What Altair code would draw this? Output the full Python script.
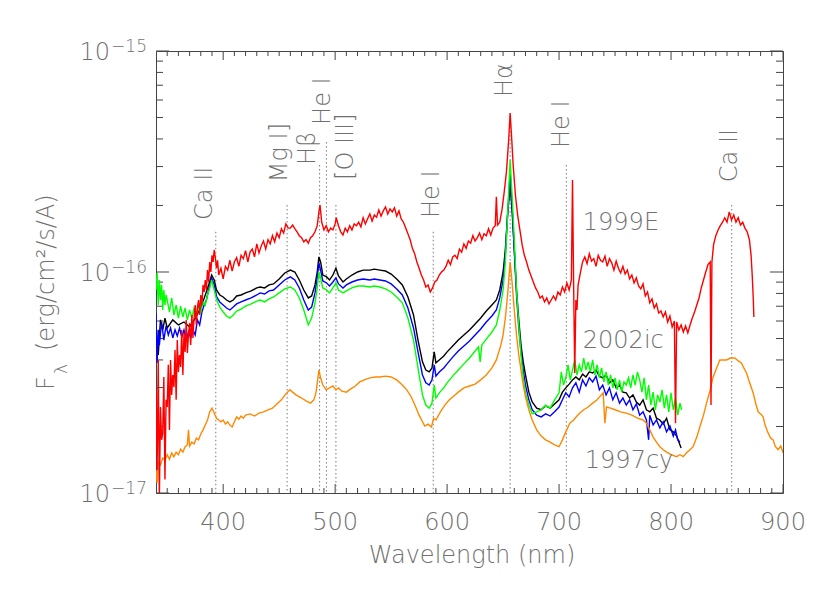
import altair as alt
import pandas as pd

# ---------------- data (flux in units of 1e-17 erg/cm2/s/A) ----------------
# SN 1999E (red), written in wavelength segments
red_wl = (list(range(340, 396))
          + list(range(396, 460, 2))
          + list(range(460, 485, 2))
          + [485.5, 486.5, 488, 490, 492, 494, 496, 498, 500, 501, 503, 505, 507, 509, 511, 513, 515, 517]
          + list(range(519, 560, 2))
          + list(range(561, 598, 2))
          + list(range(599, 644, 2))
          + [644, 645, 647, 649, 651, 653, 655, 656.3, 657.5, 659, 661, 663, 665, 667, 669, 671, 673, 675, 677, 679,
             681, 683, 685, 687, 689, 691, 693, 695, 697, 699, 701, 703, 705, 707, 709, 711, 712, 713, 714, 715,
             716, 717]
          + list(range(719, 804, 2))
          + [804] + list(range(805, 836, 2))
          + [835.7, 836.5, 838, 840, 842, 844, 846, 848, 850, 852, 854, 856, 858, 860, 862, 864, 866, 868, 870,
             871.5, 872.5, 873.5, 874])
red_flux = ([2.93, 1.27, 4.00, 0.93, 2.45, 1.74, 1.87, 3.35, 1.15, 2.64, 2.45, 3.80, 1.93, 4.00, 2.78, 3.42, 3.02, 4.44,
             2.64, 4.92, 3.53, 4.21, 3.72, 5.47, 3.42, 5.30, 4.35, 6.07, 4.30, 5.19, 5.88, 4.67, 6.39, 5.03, 6.19, 7.09,
             5.76, 6.94, 7.47, 6.39, 7.87, 7.09, 8.74, 8.12, 9.20, 8.29, 10.2, 9.01, 11.1, 10.0, 11.9, 11.1, 12.6, 11.6,
             10.4, 11.3]
            + [9.69, 10.4, 9.30, 10.6, 10.2, 11.3, 10.1, 11.1, 11.6, 10.6, 11.9, 11.5, 12.5, 11.1, 12.3, 12.7, 11.7,
               13.4, 12.2, 13.1, 13.8, 12.7, 14.0, 13.4, 14.6, 13.7, 15.0, 14.3, 15.7, 15.0, 16.5, 15.8]
            + [15.8, 16.3, 15.7, 15.2, 14.6, 14.3, 13.7, 14.0, 13.5, 14.3, 14.6, 15.2, 16.2]
            + [18.7, 20.1, 16.8, 15.5, 16.2, 15.2, 15.8, 15.5, 16.5, 17.6, 16.2, 15.2, 14.7, 15.8, 15.2, 16.2, 15.5, 16.5]
            + [16.2, 16.8, 16.0, 17.6, 16.5, 17.4, 18.3, 17.0, 18.1, 17.7, 19.1, 17.9, 18.9, 19.7, 18.3, 19.3, 18.7,
               19.5, 17.9, 18.9, 17.4]
            + [16.8, 15.8, 14.9, 14.0, 12.8, 12.1, 11.1, 10.4, 9.69, 9.20, 8.55, 8.74, 8.12, 8.47, 9.01, 9.20, 9.69,
               10.0, 10.2]
            + [10.6, 11.3, 10.8, 11.7, 11.9, 11.5, 12.7, 12.3, 13.4, 12.8, 13.8, 13.5, 14.6, 13.8, 14.3, 15.0, 14.0,
               14.9, 14.6, 15.7, 14.7, 15.8, 16.2]
            + [21.9, 16.3, 16.8, 19.1, 23.0, 28.4, 39.6, 52.4, 41.7, 30.5, 22.3, 18.1, 15.5, 13.3, 11.9, 11.1, 10.2,
               9.60, 9.01, 8.47, 8.12, 7.63, 7.79, 7.32, 7.63, 7.17, 7.47, 7.79, 7.47, 8.12, 7.87, 8.55, 8.12, 8.92,
               8.29, 9.20, 26.1, 8.74, 3.49, 7.47, 6.73, 8.74]
            + [9.90, 11.1, 11.7, 10.9, 12.1, 11.2, 11.5, 10.6, 11.9, 11.3, 11.1, 11.8, 10.6, 11.5, 11.0, 10.2, 11.2,
               10.4, 9.90, 10.6, 9.79, 10.2, 9.30, 9.69, 8.92, 9.40, 8.64, 8.38, 8.83, 7.79, 8.12, 7.25, 7.55, 6.87,
               7.17, 6.52, 6.66, 6.26, 6.59, 5.94, 6.32, 5.64, 6.00]
            + [2.07, 5.94, 5.47, 5.76, 5.35, 5.70, 5.30, 5.76, 6.19, 6.59, 7.09, 7.63, 8.47, 9.20, 10.0, 10.8, 11.1]
            + [2.50, 11.1, 13.3, 14.6, 15.5, 16.2, 16.8, 17.6, 16.8, 18.7, 17.2, 18.1, 16.8, 17.6, 16.3, 16.8, 15.8,
               15.2, 14.0, 11.9, 9.69, 7.47, 6.26])

black_wl = [340, 342, 344, 346, 348, 350, 355, 360, 365, 370, 375, 380, 384, 387, 389.7, 392, 394, 397, 400, 403,
            406, 409, 412, 416, 420, 425, 430, 433, 437, 441, 445, 450, 455, 460, 464, 468, 472, 476, 479, 482,
            484, 485.5, 487, 489, 492.4, 495, 498, 500.7, 503, 507, 510, 515, 520, 525, 531, 535, 540, 545, 550, 555,
            560, 565, 570, 574, 578, 581, 584, 586.5, 588.5, 590, 593, 597, 600, 605, 610, 615, 620, 625, 630, 635,
            640, 644, 647, 650, 652, 654, 656.3, 658, 660, 662, 664, 666, 668, 670, 673, 676, 680, 684, 688, 692,
            696, 700, 703, 706, 709, 712, 715, 718, 721, 724, 727, 730, 733, 736, 739, 742, 745, 748, 751, 754,
            757, 760, 763, 766, 769, 772, 775, 778, 781, 784, 787, 790, 793, 796, 799, 802, 805, 807, 809]
black_flux = [5.19, 4.21, 6.07, 5.47, 6.19, 5.58, 6.07, 5.76, 5.94, 5.64, 6.19, 6.87, 7.87, 8.74, 9.69, 9.20, 8.29, 7.87, 7.71, 7.47,
              7.32, 7.47, 7.79, 7.87, 8.04, 8.21, 8.47, 8.55, 8.47, 8.74, 8.83, 9.30, 9.90, 10.2, 10.0, 9.20, 8.29, 7.63, 7.79, 8.74,
              10.0, 11.7, 11.1, 9.69, 9.50, 9.20, 9.69, 10.4, 9.60, 9.01, 9.30, 9.69, 10.0, 10.2, 10.2, 10.3, 10.2, 10.1, 9.79, 9.30,
              8.74, 7.71, 6.39, 4.92, 3.92, 3.60, 3.53, 3.68, 4.35, 3.88, 4.00, 4.17, 4.35, 4.63, 4.92, 5.19, 5.47, 5.82, 6.19, 6.66,
              7.09, 7.47, 8.29, 10.0, 12.6, 18.1, 24.8, 19.1, 12.6, 8.29, 6.07, 4.67, 3.92, 3.42, 2.86, 2.58, 2.42, 2.38, 2.48, 2.42,
              2.53, 2.64, 2.86, 2.99, 3.11, 3.25, 3.35, 3.25, 3.45, 3.35, 3.53, 3.49, 3.60, 3.38, 3.32, 3.42, 3.15, 3.25, 2.99, 3.08,
              2.86, 2.84, 2.69, 2.78, 2.58, 2.50, 2.64, 2.38, 2.33, 2.42, 2.18, 2.14, 2.05, 2.18, 1.93, 1.89, 1.81, 1.70, 1.60]

blue_wl = [340, 341, 342, 343, 345, 347, 349, 351, 353, 355, 357, 359, 361, 363, 365, 367, 369, 371, 373, 375,
           377, 379, 381, 383, 385, 387, 389.7, 392, 394.2, 397, 400, 403, 406, 409, 412, 416, 420, 425, 430, 433,
           437, 441, 445, 450, 455, 460, 464, 468, 472, 476, 479, 482, 484, 485.5, 487, 489, 492.4, 495, 498, 500.7,
           503, 507, 510, 515, 520, 525, 531, 535, 540, 545, 550, 555, 560, 565, 570, 574, 578, 581, 584, 586.5,
           588.5, 590, 593, 597, 600, 605, 610, 615, 620, 625, 630, 635, 640, 644, 647, 650, 652, 654, 656.3, 658,
           660, 662, 664, 666, 668, 670, 673, 676, 680, 684, 688, 692, 696, 700, 703, 706, 709, 712, 715, 718,
           721, 724, 727, 730, 733, 736, 739, 742, 745, 748, 751, 754, 757, 760, 763, 766, 769, 772, 775, 778,
           780, 781, 784, 787, 790, 793, 796, 799, 802, 804, 806, 808]
blue_flux = [6.52, 3.88, 5.47, 4.67, 5.94, 4.92, 5.70, 5.19, 5.58, 5.03, 5.47, 5.13, 5.58, 5.08, 5.47, 4.92, 5.35, 5.03, 5.47, 5.19,
             6.07, 5.76, 6.59, 7.09, 7.47, 8.29, 9.40, 8.74, 7.71, 7.32, 7.09, 6.87, 6.73, 6.94, 7.17, 7.32, 7.47, 7.63, 7.87, 8.04,
             7.95, 8.21, 8.29, 8.74, 9.20, 9.50, 9.20, 8.47, 7.47, 6.73, 6.94, 8.04, 9.40, 11.0, 10.2, 9.11, 8.92, 8.64, 9.01, 9.40,
             8.83, 8.47, 8.74, 9.01, 9.20, 9.30, 9.20, 9.30, 9.20, 9.11, 8.83, 8.38, 7.87, 6.87, 5.58, 4.35, 3.42, 3.15, 3.08, 3.25,
             3.80, 3.38, 3.53, 3.68, 3.84, 4.12, 4.39, 4.63, 4.87, 5.19, 5.52, 5.94, 6.32, 6.73, 7.63, 9.20, 11.9, 18.1, 27.5, 20.1,
             12.6, 7.87, 5.58, 4.35, 3.60, 3.08, 2.64, 2.38, 2.25, 2.21, 2.28, 2.23, 2.33, 2.45, 2.64, 2.84, 2.72, 2.99, 3.15, 2.86,
             3.25, 3.05, 3.32, 3.18, 3.38, 2.93, 3.08, 2.78, 2.99, 2.64, 2.84, 2.55, 2.69, 2.50, 2.64, 2.38, 2.53, 2.25, 2.33, 2.14,
             1.74, 2.25, 2.03, 2.14, 1.97, 2.10, 1.89, 2.01, 1.81, 1.93, 1.74, 1.70]

green_wl = [340, 341, 342, 343, 344, 345, 346, 347, 348, 349, 350, 352, 354, 356, 358, 360, 362, 364, 366, 368,
            370, 372, 374, 376, 378, 380, 382, 384, 386, 388, 389.7, 392, 394.2, 397, 400, 403, 406, 409, 412, 416,
            420, 425, 430, 433, 437, 441, 445, 450, 455, 460, 464, 468, 472, 476, 479, 482, 484, 485.5, 487, 489,
            492.4, 495, 498, 500.7, 503, 507, 510, 515, 520, 525, 531, 535, 540, 545, 550, 555, 560, 565, 570, 574,
            578, 581, 584, 586.5, 588.5, 590, 593, 597, 600, 605, 610, 615, 620, 625, 628, 629.5, 631, 635, 640, 644,
            647, 650, 652, 654, 656.3, 658, 660, 662, 664, 666, 668, 670, 673, 676, 680, 684, 688, 692, 696, 700,
            702, 704, 706, 708, 710, 712, 714, 716, 718, 720, 722, 724, 726, 728, 730, 732, 734, 736, 738, 740,
            742, 744, 746, 748, 750, 752, 754, 756, 758, 760, 762, 764, 766, 768, 770, 772, 774, 776, 778, 780,
            782, 784, 786, 788, 790, 792, 794, 796, 798, 800, 802, 804, 806, 808, 809.5]
green_flux = [8.29, 9.90, 7.09, 9.20, 7.47, 8.74, 6.73, 8.29, 7.09, 7.87, 7.47, 6.59, 7.63, 6.39, 7.09, 6.19, 7.01, 6.26, 6.87, 6.07,
              6.73, 6.19, 6.87, 6.39, 7.09, 6.59, 7.32, 7.09, 7.87, 8.47, 9.20, 8.29, 7.47, 6.94, 6.59, 6.32, 6.19, 6.39, 6.66, 6.80,
              7.01, 7.17, 7.39, 7.47, 7.32, 7.55, 7.71, 8.04, 8.38, 8.55, 8.29, 7.63, 6.73, 5.76, 6.19, 7.25, 8.47, 10.0, 9.40, 8.47,
              8.29, 8.04, 8.47, 8.92, 8.29, 8.04, 8.21, 8.47, 8.64, 8.64, 8.55, 8.64, 8.55, 8.38, 8.12, 7.71, 7.25, 6.19, 4.92, 3.68,
              2.78, 2.50, 2.42, 2.55, 3.08, 2.69, 2.84, 2.99, 3.15, 3.38, 3.60, 3.84, 4.08, 4.39, 4.58, 3.92, 4.67, 4.97, 5.35, 5.76,
              6.73, 8.29, 11.1, 18.1, 32.1, 22.3, 14.0, 8.29, 5.76, 4.21, 3.32, 2.84, 2.50, 2.28, 2.33, 2.38, 2.50, 2.42, 2.64, 2.84,
              3.53, 3.08, 3.32, 3.80, 3.25, 3.60, 4.00, 3.42, 3.80, 3.53, 4.08, 3.60, 3.92, 3.53, 4.00, 3.42, 3.80, 3.32, 3.68, 3.18,
              3.53, 3.08, 3.42, 2.99, 3.32, 2.93, 3.25, 2.86, 3.18, 3.08, 3.32, 2.99, 3.42, 3.08, 3.53, 3.25, 2.86, 3.32, 2.64, 3.08,
              2.50, 2.86, 2.38, 2.78, 2.58, 2.93, 2.42, 2.78, 2.33, 2.84, 2.38, 2.69, 2.25, 2.55, 2.38]

orange_wl = [340, 341, 342, 344, 346, 348, 350, 352, 354, 356, 358, 360, 362, 364, 366, 368, 369, 370, 372, 374,
             376, 378, 380, 382, 384, 386, 388, 390, 392, 394, 396, 398, 400, 402, 404, 406, 408, 410, 412, 414,
             416, 418, 420, 424, 428, 432, 436, 440, 444, 448, 452, 456, 459.6, 462, 465, 470, 474, 478, 481, 483,
             485.5, 487, 489, 492, 495, 498, 500.7, 503, 506, 510, 514, 518, 522, 526, 531, 536, 540, 545, 550, 555,
             560, 564, 568, 572, 575, 578, 580, 583, 586, 588, 590, 594, 598, 602, 606, 610, 615, 620, 625, 630,
             635, 640, 644, 648, 650, 652, 654, 656.3, 658, 660, 662, 664, 666, 668, 670, 673, 676, 680, 684, 688,
             692, 696, 700, 703, 706, 709.6, 713, 716, 718.6, 722, 726, 730, 734, 737, 739.4, 740.9, 742.4, 746, 750, 755,
             760, 765, 770, 775, 778, 781, 784, 787, 790, 793, 796, 800, 804.9, 808, 811, 813.8, 817, 819.7, 823, 825.7,
             829, 831.7, 835, 837.6, 841, 843.6, 847, 849.5, 853, 857, 860, 862.9, 865, 867.4, 870, 873.3, 876, 877.8, 880, 882.2,
             884, 886.7, 889, 891.2, 893, 895.6, 898, 900]
orange_flux = [1.27, 1.11, 1.38, 1.34, 1.44, 1.41, 1.49, 1.42, 1.52, 1.46, 1.53, 1.49, 1.58, 1.53, 1.62, 1.65, 1.93, 1.63, 1.70, 1.67,
               1.77, 1.74, 1.85, 1.93, 2.03, 2.14, 2.33, 2.42, 2.30, 2.18, 2.14, 2.10, 2.14, 2.05, 2.10, 2.03, 1.99, 2.10, 2.21, 2.16,
               2.23, 2.18, 2.25, 2.28, 2.23, 2.30, 2.33, 2.38, 2.42, 2.53, 2.64, 2.81, 2.93, 2.86, 2.78, 2.69, 2.61, 2.55, 2.64, 2.86,
               3.60, 3.32, 3.08, 2.93, 2.99, 3.05, 2.93, 2.99, 2.89, 2.86, 2.96, 3.05, 3.18, 3.25, 3.32, 3.35, 3.35, 3.38, 3.35, 3.25,
               3.08, 2.93, 2.72, 2.45, 2.25, 2.10, 2.01, 2.05, 1.99, 2.18, 2.14, 2.33, 2.50, 2.64, 2.75, 2.86, 2.99, 3.05, 3.11, 3.25,
               3.42, 3.68, 4.00, 4.67, 5.19, 6.19, 7.87, 11.1, 9.01, 6.73, 5.19, 4.21, 3.60, 3.08, 2.72, 2.38, 2.14, 1.93, 1.81, 1.74,
               1.70, 1.65, 1.62, 1.74, 1.89, 2.07, 2.14, 2.23, 2.30, 2.38, 2.45, 2.55, 2.64, 2.75, 2.84, 2.07, 2.45, 2.42, 2.38, 2.33,
               2.30, 2.25, 2.18, 2.14, 2.07, 1.93, 1.79, 1.70, 1.62, 1.57, 1.53, 1.49, 1.46, 1.49, 1.46, 1.52, 1.57, 1.62, 1.79, 1.99,
               2.25, 2.55, 2.93, 3.35, 3.71, 4.00, 4.00, 4.00, 4.08, 4.08, 3.96, 3.88, 3.68, 3.49, 3.18, 2.84, 2.50, 2.33, 2.28, 2.21,
               2.03, 1.87, 1.77, 1.74, 1.63, 1.57, 1.63, 1.52]

# identified lines: name, rest wavelength (nm), top of marker (1e-17 units),
# label anchor wavelength and label base flux
line_names = ["Ca II", "Mg I]", "H\u03b2", "He I", "[O III]", "He I", "H\u03b1", "He I", "Ca II"]
line_wl = [393.4, 457.1, 486.1, 492.2, 500.7, 587.6, 656.3, 706.5, 854.2]
line_top = [15.2, 20.1, 30.5, 38.7, 20.1, 15.2, 51.3, 30.5, 20.1]
label_wl = [383.8, 450.7, 475.7, 489.6, 509.6, 586.4, 651.6, 702.5, 852.5]
label_base = [17.2, 25.5, 30.5, 46.3, 26.1, 17.55, 61.9, 36.4, 25.5]

sn_names = ["1999E", "2002ic", "1997cy"]
sn_label_wl = [721.2, 721.2, 723.0]
sn_label_flux = [16.6, 4.87, 1.40]

x_tick_labels = [400, 500, 600, 700, 800, 900]
y_tick_values = [1e-17, 1e-16, 1e-15]
y_tick_exp = ["\u221217", "\u221216", "\u221215"]

assert len(red_wl) == len(red_flux)

# ---------------- chart ----------------
U = 1e-17
W, H = 627, 442
GRAY = "#707070"
AXC = "#444444"
FONT = "DejaVu Sans"
FW = 200

xs = alt.Scale(domain=[340, 900], nice=False, zero=False)
ys = alt.Scale(type="log", domain=[1e-17, 1e-15], nice=False)


def frame(wl, fx):
    return pd.DataFrame({"wl": wl, "flux": [v * U for v in fx]})


def spectrum(wl, fx, color):
    return alt.Chart(frame(wl, fx)).mark_line(color=color, strokeWidth=1.4, clip=True).encode(
        x=alt.X("wl:Q", scale=xs, axis=None),
        y=alt.Y("flux:Q", scale=ys, axis=None),
    )


# ticks (inward, IDL style)
x_major = list(range(400, 901, 100))
x_minor = [v for v in range(350, 900, 10) if v % 100 != 0]
y_major = y_tick_values
y_minor = [k * 10.0 ** e for e in (-17, -16) for k in range(2, 10)]


def xticks(vals, ln):
    d = pd.DataFrame({"wl": vals})
    b = alt.Chart(d).mark_rule(color=AXC, strokeWidth=1).encode(
        x=alt.X("wl:Q", scale=xs, axis=None), y=alt.value(H), y2=alt.value(H - ln))
    t = alt.Chart(d).mark_rule(color=AXC, strokeWidth=1).encode(
        x=alt.X("wl:Q", scale=xs, axis=None), y=alt.value(0), y2=alt.value(ln))
    return [b, t]


def yticks(vals, ln):
    d = pd.DataFrame({"f": vals})
    l = alt.Chart(d).mark_rule(color=AXC, strokeWidth=1).encode(
        y=alt.Y("f:Q", scale=ys, axis=None), x=alt.value(0), x2=alt.value(ln))
    r = alt.Chart(d).mark_rule(color=AXC, strokeWidth=1).encode(
        y=alt.Y("f:Q", scale=ys, axis=None), x=alt.value(W), x2=alt.value(W - ln))
    return [l, r]


ticks = xticks(x_major, 9) + xticks(x_minor, 5) + yticks(y_major, 13) + yticks(y_minor, 7)

lines_df = pd.DataFrame({
    "wl": line_wl,
    "top": [v * U for v in line_top],
    "bottom": [U] * len(line_wl),
})
markers = alt.Chart(lines_df).mark_rule(color="#7a7a7a", strokeWidth=1, strokeDash=[1.5, 2.5]).encode(
    x=alt.X("wl:Q", scale=xs, axis=None),
    y=alt.Y("top:Q", scale=ys, axis=None),
    y2="bottom:Q",
)

labels_df = pd.DataFrame({
    "wl": label_wl,
    "f": [v * U for v in label_base],
    "name": line_names,
})
line_labels = alt.Chart(labels_df).mark_text(
    angle=270, align="left", baseline="middle", fontSize=24, color=GRAY, font=FONT, fontWeight=FW
).encode(
    x=alt.X("wl:Q", scale=xs, axis=None),
    y=alt.Y("f:Q", scale=ys, axis=None),
    text="name:N",
)

sn_df = pd.DataFrame({"wl": sn_label_wl, "f": [v * U for v in sn_label_flux], "name": sn_names})
sn_labels = alt.Chart(sn_df).mark_text(
    align="left", baseline="middle", fontSize=24, color=GRAY, font=FONT, fontWeight=FW
).encode(
    x=alt.X("wl:Q", scale=xs, axis=None),
    y=alt.Y("f:Q", scale=ys, axis=None),
    text="name:N",
)

# axis tick labels
xl_df = pd.DataFrame({"wl": x_tick_labels, "t": [str(v) for v in x_tick_labels]})
x_labels = alt.Chart(xl_df).mark_text(
    align="center", baseline="alphabetic", fontSize=24, color=GRAY, font=FONT, fontWeight=FW
).encode(x=alt.X("wl:Q", scale=xs, axis=None), y=alt.value(H + 37), text="t:N")

yl_df = pd.DataFrame({"f": y_tick_values, "base": ["10"] * 3, "exp": y_tick_exp})
y_base = alt.Chart(yl_df).mark_text(
    align="right", baseline="alphabetic", fontSize=24, color=GRAY, font=FONT, fontWeight=FW, dy=9
).encode(y=alt.Y("f:Q", scale=ys, axis=None), x=alt.value(-46), text="base:N")
y_exp = alt.Chart(yl_df).mark_text(
    align="right", baseline="alphabetic", fontSize=17, color=GRAY, font=FONT, fontWeight=FW, dy=1
).encode(y=alt.Y("f:Q", scale=ys, axis=None), x=alt.value(-9), text="exp:N")

# axis titles
title_df = pd.DataFrame({"a": [0]})
x_title = alt.Chart(title_df).mark_text(
    align="center", baseline="alphabetic", fontSize=24, color=GRAY, font=FONT, fontWeight=FW,
    text="Wavelength (nm)"
).encode(x=alt.value(316), y=alt.value(H + 70))
y_title_f = alt.Chart(title_df).mark_text(
    angle=270, align="left", baseline="alphabetic", fontSize=24, color=GRAY, font=FONT, fontWeight=FW, text="F"
).encode(x=alt.value(-102), y=alt.value(339))
y_title_l = alt.Chart(title_df).mark_text(
    angle=270, align="left", baseline="alphabetic", fontSize=17, color=GRAY, font=FONT, fontWeight=FW,
    text="\u03bb"
).encode(x=alt.value(-89), y=alt.value(323))
y_title_u = alt.Chart(title_df).mark_text(
    angle=270, align="left", baseline="alphabetic", fontSize=24, color=GRAY, font=FONT, fontWeight=FW,
    text="(erg/cm\u00b2/s/A)"
).encode(x=alt.value(-102), y=alt.value(300))

spectra = [
    spectrum(black_wl, black_flux, "#000000"),
    spectrum(blue_wl, blue_flux, "#0000ff"),
    spectrum(green_wl, green_flux, "#00ff00"),
    spectrum(orange_wl, orange_flux, "#ff8800"),
    spectrum(red_wl, red_flux, "#ff0000"),
]

chart = alt.layer(
    *ticks, markers, *spectra, line_labels, sn_labels, x_labels, y_base, y_exp,
    x_title, y_title_f, y_title_l, y_title_u,
).properties(
    width=W, height=H,
    padding={"left": 148, "top": 43, "right": 30, "bottom": 90},
    autosize=alt.AutoSizeParams(type="none"),
    background="white",
).configure_view(stroke=AXC, strokeWidth=1)

chart.save("out.html", embed_options={"renderer": "svg", "actions": False})
